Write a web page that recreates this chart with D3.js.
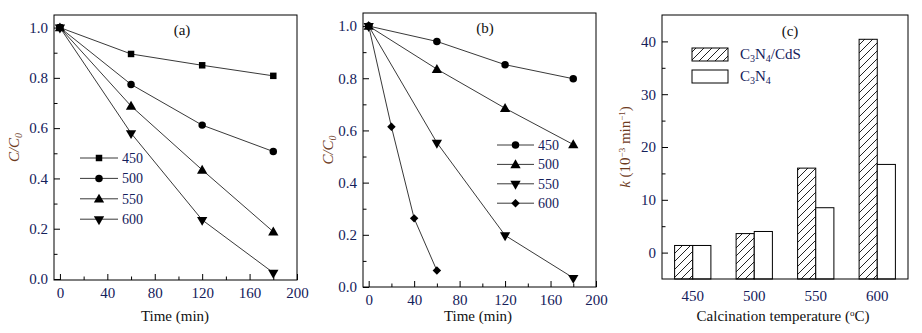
<!DOCTYPE html>
<html><head><meta charset="utf-8">
<script src="https://cdn.jsdelivr.net/npm/d3@7"></script>
<style>
body{margin:0;background:#fff;}
svg{display:block;font-family:"Liberation Serif","Times New Roman",serif;}
</style></head>
<body><svg id="c" width="922" height="333"></svg>
<script>
// ---------- data ----------
const timesA = [0, 60, 120, 180];
const seriesA = ["450", "500", "550", "600"];
const valuesA450 = [1.0, 0.895, 0.85, 0.808];
const valuesA500 = [1.0, 0.774, 0.612, 0.507];
const valuesA550 = [1.0, 0.688, 0.434, 0.188];
const valuesA600 = [1.0, 0.58, 0.235, 0.025];

const timesB = [0, 60, 120, 180];
const timesB600 = [0, 20, 40, 60];
const seriesB = ["450", "500", "550", "600"];
const valuesB450 = [1.0, 0.941, 0.852, 0.798];
const valuesB500 = [1.0, 0.835, 0.685, 0.546];
const valuesB550 = [1.0, 0.553, 0.198, 0.035];
const valuesB600 = [1.0, 0.614, 0.263, 0.063];

const tempsC = ["450", "500", "550", "600"];
const seriesC = ["C3N4/CdS", "C3N4"];
const kComposite = [1.35, 3.6, 16.0, 40.4];
const kPure = [1.35, 4.0, 8.5, 16.7];

const xTicksLine = [0, 40, 80, 120, 160, 200];
const xMinorLine = [20, 60, 100, 140, 180];
const yTicksLine = [0, 0.2, 0.4, 0.6, 0.8, 1.0];
const yMinorLine = [0.1, 0.3, 0.5, 0.7, 0.9];
const yTicksBar = [0, 10, 20, 30, 40];
const yMinorBar = [5, 15, 25, 35];

// ---------- style ----------
const FONT = 15;
const LFONT = 14;
const NAVY = "#14205a";
const BROWN = "#6e3b1e";
const svg = d3.select("#c");

const defs = svg.append("defs");
const pat = defs.append("pattern").attr("id", "hatch").attr("patternUnits", "userSpaceOnUse")
  .attr("width", 8).attr("height", 8);
pat.append("path").attr("d", "M-2,2 L2,-2 M0,8 L8,0 M6,10 L10,6")
  .attr("stroke", "#222").attr("stroke-width", 1);

function markerPath(type, size) {
  const m = {square: d3.symbolSquare, circle: d3.symbolCircle, up: d3.symbolTriangle,
             down: d3.symbolTriangle, diamond: d3.symbolSquare}[type];
  return d3.symbol().type(m).size(size)();
}
function drawMarker(g, type, x, y) {
  const sizes = {square: 42, circle: 44, up: 46, down: 46, diamond: 36};
  const p = g.append("path").attr("d", markerPath(type, sizes[type])).attr("fill", "#000");
  if (type === "down") p.attr("transform", `translate(${x},${y}) rotate(180)`);
  else if (type === "up") p.attr("transform", `translate(${x},${y + 0.8})`);
  else if (type === "diamond") p.attr("transform", `translate(${x},${y}) rotate(45)`);
  else p.attr("transform", `translate(${x},${y})`);
}

function styleAxis(g) {
  g.select(".domain").remove();
  g.selectAll("line").attr("stroke", "#000").attr("stroke-width", 1);
  g.selectAll("text").attr("fill", NAVY).attr("font-size", FONT)
    .attr("font-family", "Liberation Serif, Times New Roman, serif");
}

function linePanel(opt) {
  const {left, right, top, bottom, ydom, series, label, legend} = opt;
  const x = d3.scaleLinear().domain([-5, 200]).range([left, right]);
  const y = d3.scaleLinear().domain(ydom).range([bottom, top]);
  const g = svg.append("g");

  const ax = g.append("g").attr("transform", `translate(0,${bottom})`)
    .call(d3.axisBottom(x).tickValues(xTicksLine).tickSizeInner(-6).tickSizeOuter(0).tickPadding(7).tickFormat(d3.format("d")));
  styleAxis(ax);
  const axm = g.append("g").attr("transform", `translate(0,${bottom})`)
    .call(d3.axisBottom(x).tickValues(xMinorLine).tickSizeInner(-3.5).tickSizeOuter(0).tickFormat(""));
  styleAxis(axm);
  const ay = g.append("g").attr("transform", `translate(${left},0)`)
    .call(d3.axisLeft(y).tickValues(yTicksLine).tickSizeInner(-6).tickSizeOuter(0).tickPadding(6).tickFormat(d3.format(".1f")));
  styleAxis(ay);
  const aym = g.append("g").attr("transform", `translate(${left},0)`)
    .call(d3.axisLeft(y).tickValues(yMinorLine).tickSizeInner(-3.5).tickSizeOuter(0).tickFormat(""));
  styleAxis(aym);

  g.append("rect").attr("x", left).attr("y", top).attr("width", right - left).attr("height", bottom - top)
    .attr("fill", "none").attr("stroke", "#000").attr("stroke-width", 1);

  const line = d3.line().x(d => x(d[0])).y(d => y(d[1]));
  series.forEach(s => {
    const pts = s.t.map((t, i) => [t, s.v[i]]);
    g.append("path").attr("d", line(pts)).attr("fill", "none").attr("stroke", "#222").attr("stroke-width", 0.9);
    pts.forEach(p => drawMarker(g, s.m, x(p[0]), y(p[1])));
  });

  g.append("text").attr("x", label.x).attr("y", label.y).attr("text-anchor", "middle")
    .attr("font-size", FONT).attr("fill", "#111").text(label.t);

  series.forEach((s, i) => {
    const ly = legend.y + i * legend.dy;
    g.append("line").attr("x1", legend.x).attr("x2", legend.x + legend.w).attr("y1", ly).attr("y2", ly)
      .attr("stroke", "#222").attr("stroke-width", 0.9);
    drawMarker(g, s.m, legend.x + legend.w / 2, ly);
    g.append("text").attr("x", legend.x + legend.w + 4).attr("y", ly).attr("dy", "0.35em")
      .attr("font-size", LFONT).attr("fill", NAVY).text(s.name);
  });

  const yt = g.append("text").attr("transform", `translate(${opt.ytx},${(top + bottom) / 2}) rotate(-90)`)
    .attr("text-anchor", "middle").attr("font-size", FONT).attr("fill", BROWN).attr("font-style", "italic");
  yt.append("tspan").text("C/C");
  yt.append("tspan").attr("font-size", 10).attr("dy", 3).text("0");
  g.append("text").attr("x", opt.xtx).attr("y", opt.xty).attr("text-anchor", "middle")
    .attr("font-size", FONT).attr("fill", "#111").text("Time (min)");
}

linePanel({
  left: 54, right: 297, top: 15, bottom: 280, ydom: [-0.004, 1.05],
  series: [
    {name: seriesA[0], t: timesA, v: valuesA450, m: "square"},
    {name: seriesA[1], t: timesA, v: valuesA500, m: "circle"},
    {name: seriesA[2], t: timesA, v: valuesA550, m: "up"},
    {name: seriesA[3], t: timesA, v: valuesA600, m: "down"}
  ],
  label: {x: 182, y: 35, t: "(a)"},
  legend: {x: 80, y: 158, dy: 20.4, w: 38},
  ytx: 19, xtx: 175, xty: 321
});

linePanel({
  left: 363, right: 596, top: 13, bottom: 287, ydom: [0, 1.05],
  series: [
    {name: seriesB[0], t: timesB, v: valuesB450, m: "circle"},
    {name: seriesB[1], t: timesB, v: valuesB500, m: "up"},
    {name: seriesB[2], t: timesB, v: valuesB550, m: "down"},
    {name: seriesB[3], t: timesB600, v: valuesB600, m: "diamond"}
  ],
  label: {x: 485, y: 33, t: "(b)"},
  legend: {x: 497, y: 145, dy: 19.4, w: 37},
  ytx: 333, xtx: 478, xty: 321
});

// ---------- bar panel ----------
(function () {
  const left = 662, right = 908, top = 15, bottom = 279;
  const x0 = d3.scaleBand().domain(tempsC).range([left, right]).paddingInner(0.41).paddingOuter(0.205);
  const x1 = d3.scaleBand().domain(seriesC).range([0, x0.bandwidth()]);
  const y = d3.scaleLinear().domain([-5, 45]).range([bottom, top]);
  const g = svg.append("g");

  const ay = g.append("g").attr("transform", `translate(${left},0)`)
    .call(d3.axisLeft(y).tickValues(yTicksBar).tickSizeInner(-6).tickSizeOuter(0).tickPadding(6));
  styleAxis(ay);
  const aym = g.append("g").attr("transform", `translate(${left},0)`)
    .call(d3.axisLeft(y).tickValues(yMinorBar).tickSizeInner(-3.5).tickSizeOuter(0).tickFormat(""));
  styleAxis(aym);
  const ax = g.append("g").attr("transform", `translate(0,${bottom})`)
    .call(d3.axisBottom(x0).tickSize(0).tickPadding(11));
  styleAxis(ax);

  const vals = {"C3N4/CdS": kComposite, "C3N4": kPure};
  seriesC.forEach((s, si) => {
    tempsC.forEach((t, i) => {
      const v = vals[s][i];
      g.append("rect").attr("x", x0(t) + x1(s)).attr("width", x1.bandwidth())
        .attr("y", y(v)).attr("height", bottom - y(v))
        .attr("fill", si === 0 ? "url(#hatch)" : "#fff").attr("stroke", "#000").attr("stroke-width", 1);
    });
  });

  g.append("rect").attr("x", left).attr("y", top).attr("width", right - left).attr("height", bottom - top)
    .attr("fill", "none").attr("stroke", "#000").attr("stroke-width", 1);

  g.append("text").attr("x", 790).attr("y", 36).attr("text-anchor", "middle")
    .attr("font-size", FONT).attr("fill", "#111").text("(c)");

  const lg = [{y: 48}, {y: 70}];
  lg.forEach((d, i) => {
    g.append("rect").attr("x", 692).attr("y", d.y).attr("width", 36).attr("height", 13)
      .attr("fill", i === 0 ? "url(#hatch)" : "#fff").attr("stroke", "#000").attr("stroke-width", 1);
    const t = g.append("text").attr("x", 740).attr("y", d.y + 11).attr("font-size", FONT).attr("fill", NAVY);
    t.append("tspan").text("C");
    t.append("tspan").attr("font-size", 10).attr("dy", 3).text("3");
    t.append("tspan").attr("dy", -3).text("N");
    t.append("tspan").attr("font-size", 10).attr("dy", 3).text("4");
    if (i === 0) t.append("tspan").attr("dy", -3).text("/CdS");
  });

  const yt = g.append("text").attr("transform", `translate(630,${(top + bottom) / 2}) rotate(-90)`)
    .attr("text-anchor", "middle").attr("font-size", FONT).attr("fill", BROWN);
  yt.append("tspan").attr("font-style", "italic").text("k");
  yt.append("tspan").text(" (10");
  yt.append("tspan").attr("font-size", 9).attr("dy", -5).text("−3");
  yt.append("tspan").attr("dy", 5).text(" min");
  yt.append("tspan").attr("font-size", 9).attr("dy", -5).text("−1");
  yt.append("tspan").attr("dy", 5).text(")");

  const xt = g.append("text").attr("x", 783).attr("y", 321).attr("text-anchor", "middle")
    .attr("font-size", FONT).attr("fill", "#111");
  xt.append("tspan").text("Calcination temperature (");
  xt.append("tspan").attr("font-size", 9).attr("dy", -5).text("o");
  xt.append("tspan").attr("dy", 5).text("C)");
})();
</script></body></html>
